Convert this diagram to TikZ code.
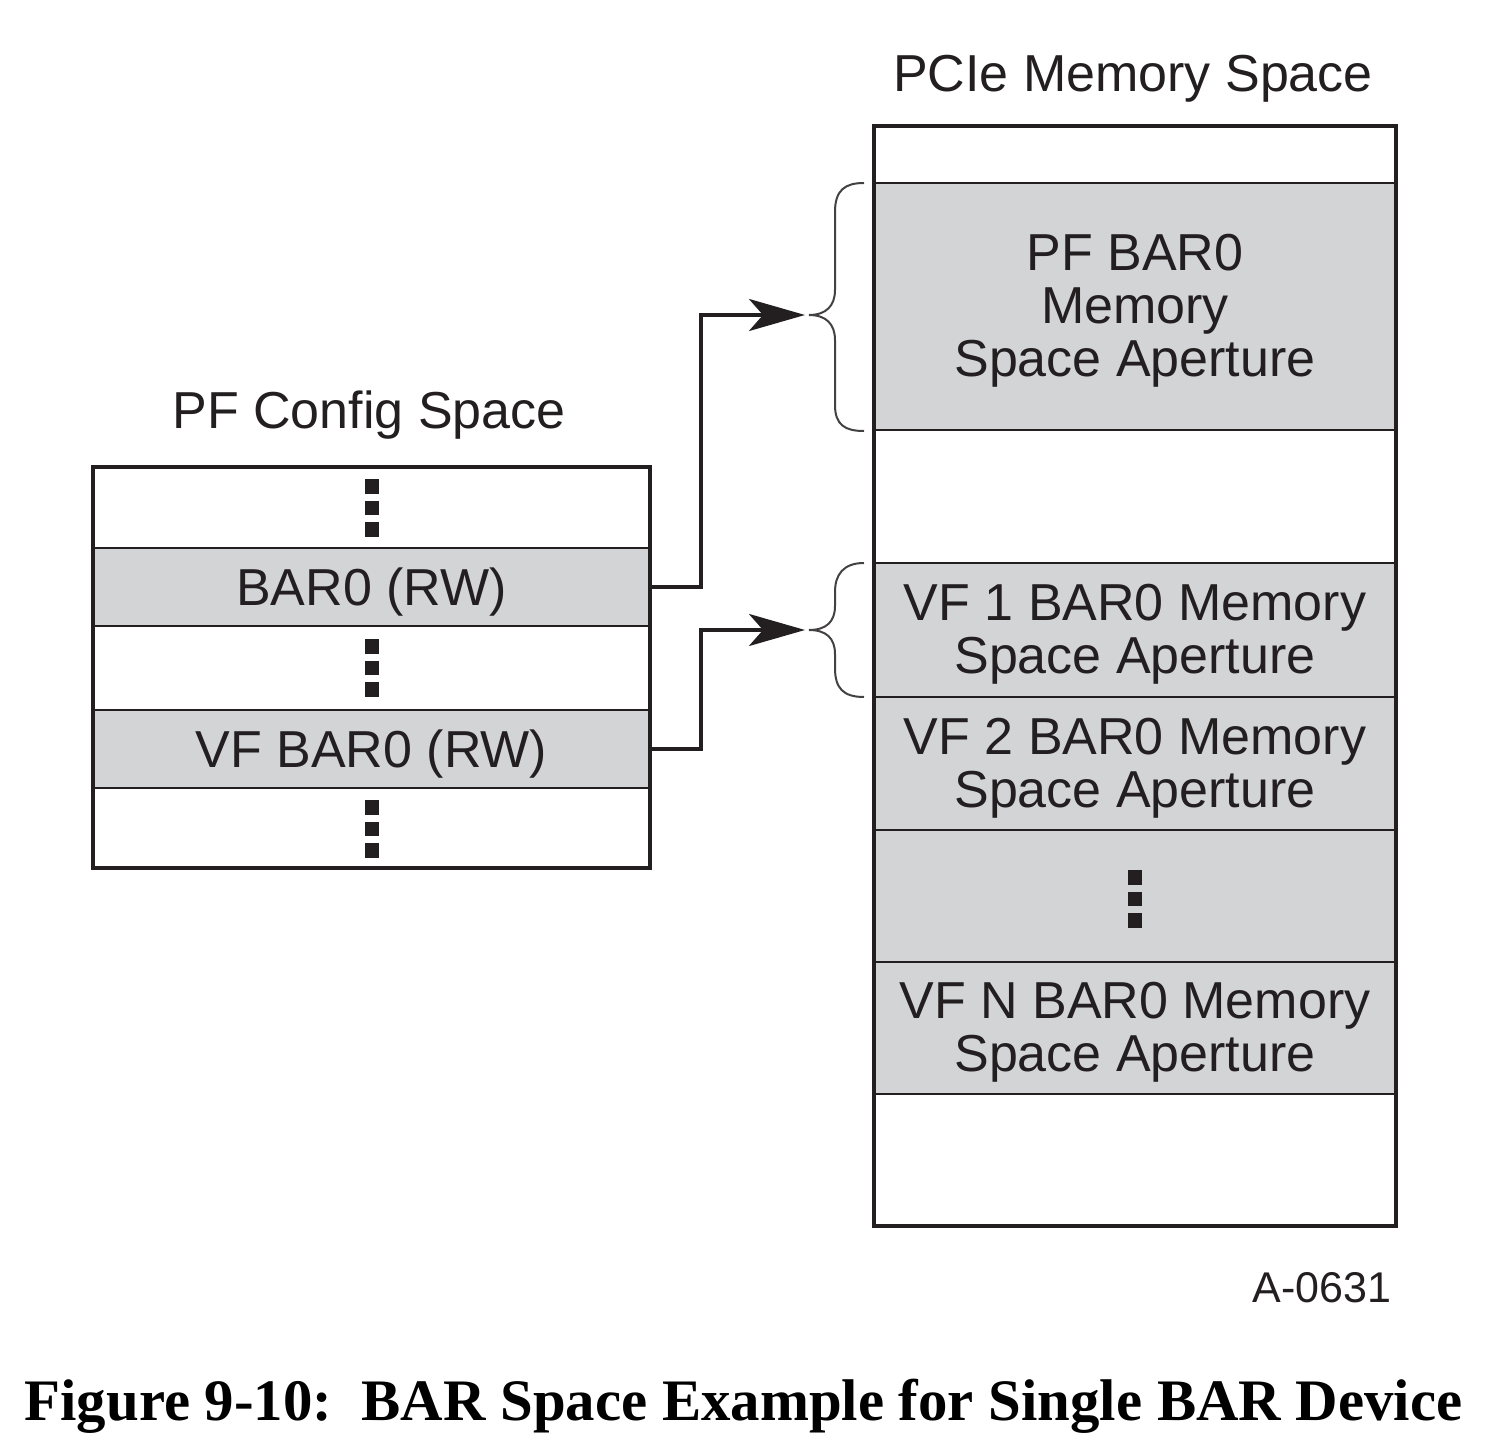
\documentclass[tikz,border=0pt]{standalone}
\usepackage{fontspec}
\setmainfont{Liberation Serif}
\setsansfont{Liberation Sans}
\usetikzlibrary{arrows.meta}
\definecolor{barg}{RGB}{211,212,214}
\definecolor{ink}{RGB}{35,31,32}
\begin{document}
\begin{tikzpicture}[x=0.5pt,y=-0.5pt,
  font=\sffamily\fontsize{26}{26.5}\selectfont,
  row/.style={draw=ink, line width=1pt, inner sep=0pt, align=center, text=ink},
  lrow/.style={row, minimum width=277.5pt},
  rrow/.style={row, minimum width=260pt},
  grey/.style={fill=barg},
  txt/.style={inner sep=0pt, align=center, text=ink, yshift=-2.3pt},
  frame/.style={draw=ink, line width=2pt},
  conn/.style={draw=ink, line width=2pt, -{Stealth[length=28pt,width=16pt,inset=7pt]}},
  brace/.style={draw=ink!85, line width=1pt},
  dotcol/.pic={
    \fill[ink] (-7,-29) rectangle (7,-14);
    \fill[ink] (-7,-7) rectangle (7,7);
    \fill[ink] (-7,14) rectangle (7,29);
  }
]
\useasboundingbox (0,0) rectangle (1485,1444);

% ---------- left: PF config space ----------
\node[lrow, minimum height=40pt] (l1) at (371.5,508) {};
\node[lrow, grey, minimum height=39pt] (bar0) at (371.5,587) {};
\node[lrow, minimum height=42pt] (l3) at (371.5,668) {};
\node[lrow, grey, minimum height=39pt] (vfbar0) at (371.5,749) {};
\node[lrow, minimum height=39.5pt] (l5) at (371.5,827.5) {};
\draw[frame] (l1.north west) rectangle (l5.south east);
\node[txt] (bar0t) at (bar0.center) {BAR0 (RW)};
\node[txt] (vfbar0t) at (vfbar0.center) {VF BAR0 (RW)};
\pic at (372,508) {dotcol};
\pic at (372,668) {dotcol};
\pic at (372,829) {dotcol};
\node[anchor=base, text=ink] (ltitle) at (369,429) {PF Config Space};

% ---------- right: PCIe memory space ----------
\node[rrow, minimum height=28pt] (r1) at (1135,155) {};
\node[rrow, grey, minimum height=123.5pt] (pfap) at (1135,306.5) {};
\node[rrow, minimum height=66.5pt] (r3) at (1135,496.5) {};
\node[rrow, grey, minimum height=67pt] (vf1) at (1135,630) {};
\node[rrow, grey, minimum height=66.5pt] (vf2) at (1135,763.5) {};
\node[rrow, grey, minimum height=66pt] (vfdots) at (1135,896) {};
\node[rrow, grey, minimum height=66pt] (vfn) at (1135,1028) {};
\node[rrow, minimum height=65.5pt] (r8) at (1135,1159.5) {};
\draw[frame] (r1.north west) rectangle (r8.south east);
\node[txt] (pfapt) at (pfap.center) {PF BAR0\\Memory\\Space Aperture};
\node[txt] (vf1t) at (vf1.center) {VF 1 BAR0 Memory\\Space Aperture};
\node[txt] (vf2t) at (vf2.center) {VF 2 BAR0 Memory\\Space Aperture};
\node[txt] (vfnt) at (vfn.center) {VF N BAR0 Memory\\Space Aperture};
\pic at (1135,899) {dotcol};
\node[anchor=base, text=ink] (rtitle) at (1133,92) {PCIe Memory Space};

% ---------- braces ----------
\coordinate (tip1) at (805,315);
\coordinate (tip2) at (805,630);
\draw[brace] (864,183) .. controls (845,183) and (835,190) .. (835,212) -- (835,290)
  .. controls (835,306) and (826,315) .. (809,315)
  .. controls (826,315) and (835,324) .. (835,340) -- (835,405)
  .. controls (835,425) and (845,431) .. (864,431);
\draw[brace] (864,563) .. controls (843,563) and (835,575) .. (835,592) -- (835,606)
  .. controls (835,622) and (826,630) .. (809,630)
  .. controls (826,630) and (835,638) .. (835,654) -- (835,668)
  .. controls (835,688) and (843,697) .. (864,697);

% ---------- connectors ----------
\draw[conn] (bar0.east) -- ++(51,0) |- (tip1);
\draw[conn] (vfbar0.east) -- ++(51,0) |- (tip2);

% ---------- labels ----------
\node[anchor=base east, inner sep=0pt, text=ink, font=\sffamily\fontsize{21.5}{22}\selectfont] (code) at (1392,1302) {A-0631};
\node[anchor=base, inner sep=0pt, text=black, font=\rmfamily\bfseries\fontsize{29.4}{30}\selectfont] (cap) at (743.5,1420) {Figure 9-10:\ \ BAR Space Example for Single BAR Device};
\end{tikzpicture}
\end{document}
